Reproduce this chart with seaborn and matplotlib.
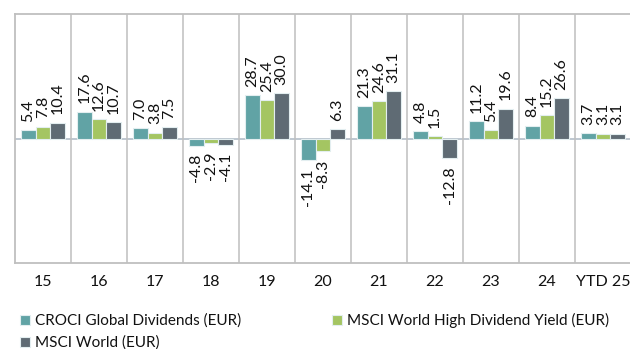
import pandas as pd
import matplotlib.pyplot as plt
import seaborn as sns

# Datos
years = ['15', '16', '17', '18', '19', '20', '21', '22', '23', '24', 'YTD 25']
croci = [5.4, 17.6, 7.0, -4.8, 28.7, -14.1, 21.3, 4.8, 11.2, 8.4, 3.7]
msci_hdy = [7.8, 12.6, 3.8, -2.9, 25.4, -8.3, 24.6, 1.5, 5.4, 15.2, 3.1]
msci_world = [10.4, 10.7, 7.5, -4.1, 30.0, 6.3, 31.1, -12.8, 19.6, 26.6, 3.1]
series = ['CROCI Global Dividends (EUR)',
          'MSCI World High Dividend Yield (EUR)',
          'MSCI World (EUR)']
colors = ['#56AEB0', '#A9D651', '#5B6B78']

df = pd.DataFrame({
    'year': years * 3,
    'value': croci + msci_hdy + msci_world,
    'serie': [series[0]] * 11 + [series[1]] * 11 + [series[2]] * 11,
})

sns.set_style('white')
plt.rcParams['font.family'] = ['Lato', 'DejaVu Sans']

fig = plt.figure(figsize=(6.3, 3.49), dpi=100)
ax = fig.add_axes([15 / 630, 1 - 263 / 349, 616 / 630, 249 / 349])

sns.barplot(data=df, x='year', y='value', hue='serie', palette=colors,
            width=0.78, edgecolor='#E3EEF0', linewidth=0.8, ax=ax, legend=True)

for cont in ax.containers:
    ax.bar_label(cont, fmt='%.1f', rotation=90, padding=6, fontsize=11.5, color='#111111')

ax.set_xlim(-0.5, 10.5)
ax.set_ylim(-82, 82)
ax.axhline(0, color='#B3BDC8', lw=1.2, zorder=0)
for i in range(10):
    ax.axvline(i + 0.5, color='#BFBFBF', lw=1.1, zorder=0)

for s in ['left', 'top', 'bottom']:
    ax.spines[s].set_color('#BFBFBF')
    ax.spines[s].set_linewidth(1.3)
ax.spines['right'].set_visible(False)
ax.set_yticks([])
ax.set_xlabel('')
ax.set_ylabel('')
ax.tick_params(axis='x', length=0, pad=9, labelsize=11.5, labelcolor='#111111')

handles, labels = ax.get_legend_handles_labels()
ax.get_legend().remove()
order = [0, 2, 1]
fig.legend([handles[i] for i in order], [labels[i] for i in order],
           ncol=2, loc='upper left', bbox_to_anchor=(17 / 630, 1 - 310 / 349),
           frameon=False, fontsize=11, handlelength=0.65, handleheight=0.65,
           handletextpad=0.3, columnspacing=6.0, labelspacing=0.5,
           borderaxespad=0, borderpad=0.2, labelcolor='#111111')

plt.savefig('out.png', dpi=100)
plt.close()
